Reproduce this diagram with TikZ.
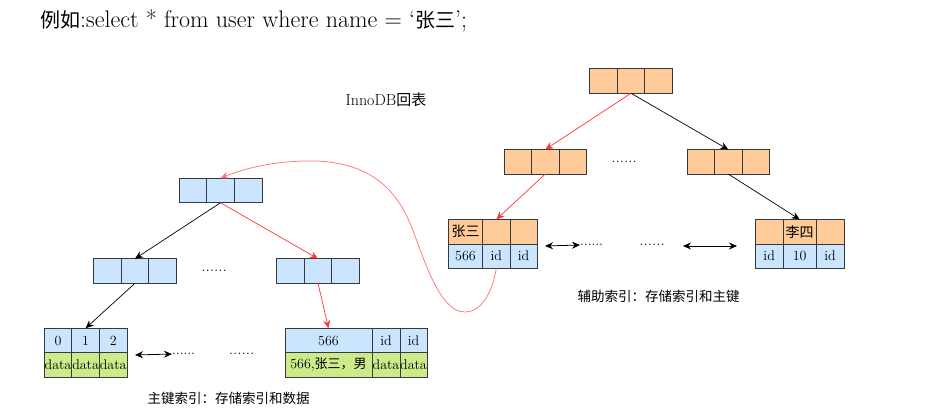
\documentclass[tikz,border=0pt]{standalone}
\usepackage{fontspec}
\newfontfamily\cjk{Noto Sans CJK SC}
\usetikzlibrary{arrows.meta}
\definecolor{keyblue}{HTML}{CCE5FF}
\definecolor{keyorange}{HTML}{FFCC99}
\definecolor{datagreen}{HTML}{CDEB8B}
\definecolor{cellline}{HTML}{36393D}
\definecolor{hitred}{HTML}{FF3333}
\definecolor{backred}{HTML}{FF6F6F}

\begin{document}
\begin{tikzpicture}[x=1pt,y=-1pt,
    cell/.style={draw=cellline,line width=0.8pt,minimum width=27.6pt,minimum height=24.5pt,
        inner sep=0pt,outer sep=0pt,font=\fontsize{14}{14}\selectfont},
    pk/.style={cell,fill=keyblue},
    sk/.style={cell,fill=keyorange},
    rec/.style={cell,fill=datagreen},
    link/.style={-{Stealth[length=8pt,width=7pt]},line width=0.7pt},
    hit/.style={link,draw=hitred},
    back/.style={draw=backred,line width=0.7pt,-{Stealth[length=8pt,width=7pt]}},
    both/.style={{Stealth[length=8pt,width=7pt]}-{Stealth[length=8pt,width=7pt]},line width=0.8pt},
    dots/.style={inner sep=0pt,font=\fontsize{17}{17}\selectfont},
    fewdots/.style={inner sep=0pt,anchor=west,font=\fontsize{14}{14}\selectfont},
    caption/.style={font=\fontsize{13.5}{13.5}\selectfont\cjk}]
\useasboundingbox (0,0) rectangle (927,412);

\node[anchor=west,inner sep=0pt,font=\fontsize{24}{24}\selectfont] (query) at (40,21)
    {{\cjk\fontsize{20}{20}\selectfont 例如}:select * from user where name = ‘{\cjk\fontsize{20}{20}\selectfont 张三}’;};
\node[font=\fontsize{16}{16}\selectfont] (title) at (386,100) {InnoDB{\cjk\fontsize{15}{15}\selectfont 回表}};

\foreach \n/\x/\y in {pr/220.5/190.5, pa/135/271, pb/318/271}
    \foreach \i in {1,2,3}
        \node[pk] (\n\i) at (\x+\i*27.6-55.2,\y) {};
\foreach \n/\x/\y in {sr/631/81, sa/545.3/161.8, sb/728.3/161.8}
    \foreach \i in {1,2,3}
        \node[sk] (\n\i) at (\x+\i*27.6-55.2,\y) {};

\node[pk] (pl1) at (58,340.5) {0};
\node[pk] (pl2) at (85.6,340.5) {1};
\node[pk] (pl3) at (113.2,340.5) {2};
\node[rec] (pd1) at (58,365) {data};
\node[rec] (pd2) at (85.6,365) {data};
\node[rec] (pd3) at (113.2,365) {data};

\node[pk,minimum width=87pt] (pm1) at (328.5,340.5) {566};
\node[pk,minimum width=28pt] (pm2) at (386,340.5) {id};
\node[pk,minimum width=27pt] (pm3) at (413.5,340.5) {id};
\node[rec,minimum width=87pt] (pe1) at (328.5,365) {566,{\cjk\fontsize{13}{13}\selectfont 张三，男}};
\node[rec,minimum width=28pt] (pe2) at (386,365) {data};
\node[rec,minimum width=27pt] (pe3) at (413.5,365) {data};

\node[sk,minimum width=34.4pt] (sl1) at (465.5,231.7) {\cjk 张三};
\node[sk,minimum width=27.3pt] (sl2) at (496.3,231.7) {};
\node[sk,minimum width=27.3pt] (sl3) at (523.6,231.7) {};
\node[pk,minimum width=34.4pt] (sk1) at (465.5,256.2) {566};
\node[pk,minimum width=27.3pt] (sk2) at (496.3,256.2) {id};
\node[pk,minimum width=27.3pt] (sk3) at (523.6,256.2) {id};

\node[sk,minimum width=28.3pt] (sm1) at (769.2,231.7) {};
\node[sk,minimum width=32.7pt] (sm2) at (799.7,231.7) {\cjk 李四};
\node[sk,minimum width=28pt] (sm3) at (830,231.7) {};
\node[pk,minimum width=28.3pt] (sn1) at (769.2,256.2) {id};
\node[pk,minimum width=32.7pt] (sn2) at (799.7,256.2) {10};
\node[pk,minimum width=28pt] (sn3) at (830,256.2) {id};

\node[dots] (pdots) at (214,271) {......};
\node[dots] (sdots) at (624,162) {......};
\node[dots] (lbig) at (241.5,354) {......};
\node[dots] (rbig) at (652,245) {......};
\node[fewdots] (lfew) at (172,354) {......};
\node[fewdots] (rfew) at (580,245) {......};
\coordinate (lend) at (135,355);
\coordinate (rend) at (545,246);
\coordinate (rfrom) at (683,246);
\coordinate (rto) at (737,246);

\draw[link] (pr2.south) -- (pa2.north);
\draw[hit] (pr2.south) -- (pb2.north);
\draw[link] (pa2.south) -- (pl2.north);
\draw[hit] (pb2.south) -- (pm1.north);
\draw[hit] (sr2.south) -- (sa2.north);
\draw[link] (sr2.south) -- (sb2.north);
\draw[hit] (sa2.south) -- (sl2.north);
\draw[link] (sb2.south) -- (sm2.north);
\draw[both] (lend) -- (lfew.west);
\draw[both] (rend) -- (rfew.west);
\draw[both] (rfrom) -- (rto);
\draw[back] (sk2.south) .. controls (492,295) and (480,312) .. (465,312)
    .. controls (440,312) and (425,262) .. (412,228)
    .. controls (397,190) and (372,164) .. (318,161)
    .. controls (278,160) and (245,168) .. (pr2.north);

\node[caption] (pcap) at (228.5,398) {主键索引：存储索引和数据};
\node[caption] (scap) at (658.5,296) {辅助索引：存储索引和主键};
\end{tikzpicture}
\end{document}
